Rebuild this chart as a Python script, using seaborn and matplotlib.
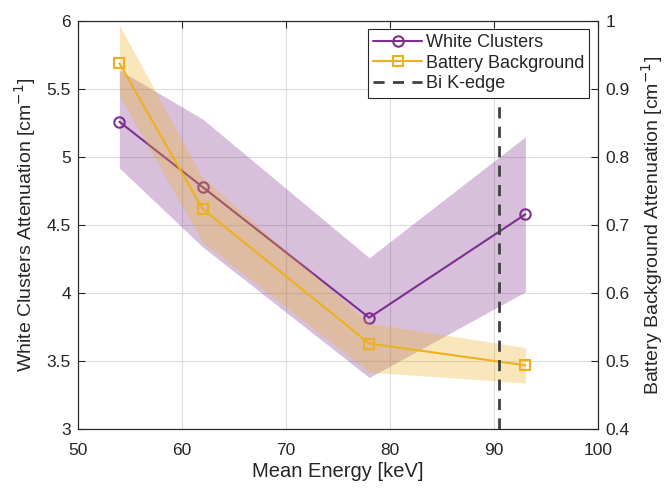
import numpy as np
import pandas as pd
import matplotlib
matplotlib.use("Agg")
import matplotlib.pyplot as plt
import seaborn as sns

energy = [54, 62, 78, 93]
wc = [5.26, 4.78, 3.82, 4.58]
wc_lo = [4.92, 4.34, 3.38, 4.01]
wc_hi = [5.64, 5.28, 4.26, 5.15]
bb = [0.938, 0.724, 0.526, 0.494]
bb_lo = [0.89, 0.675, 0.484, 0.468]
bb_hi = [0.994, 0.77, 0.556, 0.52]
k_edge = 90.5

purple = "#7E2F8E"
yellow = "#EDB120"

sns.set_style("white")
plt.rcParams["font.family"] = ["Liberation Sans", "DejaVu Sans"]
plt.rcParams["xtick.direction"] = "in"
plt.rcParams["ytick.direction"] = "in"

df = pd.DataFrame({"energy": energy, "wc": wc, "bb": bb})

fig = plt.figure(figsize=(6.7, 4.9), dpi=100)
ax = fig.add_axes([0.116, 0.124, 0.777, 0.833])
ax2 = ax.twinx()

ax.fill_between(energy, wc_lo, wc_hi, color=purple, alpha=0.3, linewidth=0)
sns.lineplot(data=df, x="energy", y="wc", ax=ax, color=purple, marker="o", markersize=7.5,
             markerfacecolor="none", markeredgecolor=purple, markeredgewidth=1.5, linewidth=1.5,
             label="White Clusters", legend=False)

ax2.fill_between(energy, bb_lo, bb_hi, color=yellow, alpha=0.3, linewidth=0)
sns.lineplot(data=df, x="energy", y="bb", ax=ax2, color=yellow, marker="s", markersize=6.5,
             markerfacecolor="none", markeredgecolor=yellow, markeredgewidth=1.5, linewidth=1.5,
             label="Battery Background", legend=False)
ax2.axvline(k_edge, color="#404040", linestyle=(0, (4, 3)), linewidth=2, label="Bi K-edge")

ax.set_xlim(50, 100)
ax.set_ylim(3, 6)
ax2.set_ylim(0.4, 1.0)
ax.set_xticks(range(50, 101, 10))
ax.set_yticks(np.arange(3, 6.01, 0.5))
ax2.set_yticks(np.arange(0.4, 1.001, 0.1))
ax.set_yticklabels(["3", "3.5", "4", "4.5", "5", "5.5", "6"])
ax2.set_yticklabels(["0.4", "0.5", "0.6", "0.7", "0.8", "0.9", "1"])
ax.grid(True, color="#dcdcdc", linewidth=0.8)
ax.set_axisbelow(True)

ax.set_xlabel("Mean Energy [keV]", fontsize=14.5, color="#262626", labelpad=3)
ax.set_ylabel("White Clusters Attenuation [cm$^{-1}$]", fontsize=14, color="#262626", labelpad=6)
ax2.set_ylabel("Battery Background Attenuation [cm$^{-1}$]", fontsize=14, color="#262626", labelpad=7)
for a in (ax, ax2):
    a.tick_params(labelsize=12.5, colors="#262626", length=5, width=0.8, top=True)
    for s in a.spines.values():
        s.set_color("#262626")
        s.set_linewidth(0.8)
ax.tick_params(axis="x", pad=10)
ax.tick_params(axis="y", pad=5)
ax2.tick_params(axis="y", pad=5)

h1, l1 = ax.get_legend_handles_labels()
h2, l2 = ax2.get_legend_handles_labels()
leg = ax2.legend(h1 + h2, l1 + l2, loc="upper right", bbox_to_anchor=(0.99, 0.99), fontsize=13,
                 frameon=True, fancybox=False, framealpha=1, edgecolor="#262626",
                 borderpad=0.3, labelspacing=0.2, handlelength=2.7, handletextpad=0.2,
                 borderaxespad=0.2)
leg.get_frame().set_linewidth(0.8)

fig.savefig("out.png", dpi=100)
